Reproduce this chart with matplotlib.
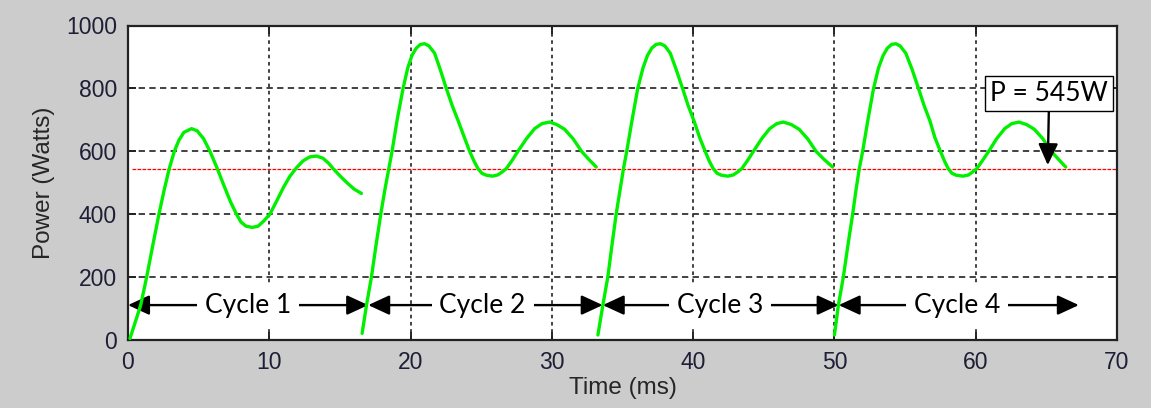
import matplotlib
matplotlib.use("Agg")
import matplotlib.pyplot as plt

# ---- data ----
c1_t = [0.14, 0.5, 0.9, 1.32, 1.75, 2.19, 2.55, 2.92, 3.28, 3.6, 3.95, 4.5, 4.9, 5.35, 5.8, 6.32, 6.8, 7.25,
        7.68, 8.0, 8.35, 8.8, 9.21, 9.6, 10.04, 10.5, 11.0, 11.45, 11.93, 12.4, 12.85, 13.34, 13.8, 14.2,
        14.52, 15.0, 15.5, 16.0, 16.52]
c1_p = [5, 55, 111, 200, 300, 400, 475, 545, 600, 635, 660, 672, 665, 640, 600, 545, 490, 440,
        400, 375, 362, 358, 362, 378, 400, 440, 485, 520, 548, 570, 582, 585, 578, 562,
        545, 522, 500, 480, 466]

c2_t = [16.57, 16.88, 17.23, 17.55, 17.89, 18.17, 18.46, 18.69, 19.05, 19.47, 19.8, 20.1, 20.4, 20.7, 21.0,
        21.3, 21.7, 22.1, 22.53, 22.95, 23.36, 23.8, 24.18, 24.5, 24.77, 25.05, 25.36, 25.8, 26.18, 26.5,
        26.78, 27.2, 27.6, 28.2, 28.78, 29.3, 29.84, 30.35, 30.9, 31.5, 32.1, 32.6, 33.14]
c2_p = [21, 111, 200, 300, 400, 475, 545, 600, 700, 800, 865, 905, 928, 940, 942,
        935, 912, 860, 800, 745, 698, 645, 600, 568, 545, 530, 524, 521, 525, 535,
        545, 572, 600, 640, 672, 688, 693, 685, 670, 640, 600, 575, 550]

c3_t = [33.26, 33.61, 33.96, 34.25, 34.55, 34.82, 35.07, 35.3, 35.68, 36.08, 36.45, 36.77, 37.07, 37.38, 37.69,
        38.0, 38.38, 38.8, 39.25, 39.65, 40.05, 40.45, 40.85, 41.15, 41.42, 41.7, 42.0, 42.45, 42.85, 43.17,
        43.45, 43.87, 44.27, 44.85, 45.42, 45.92, 46.38, 46.95, 47.5, 48.1, 48.7, 49.25, 49.87]
c3_p = [16, 111, 200, 300, 400, 475, 545, 600, 700, 800, 865, 905, 928, 940, 942,
        935, 912, 860, 800, 745, 698, 645, 600, 568, 545, 530, 524, 521, 525, 535,
        545, 572, 600, 640, 672, 688, 693, 685, 670, 640, 600, 575, 550]

c4_t = [50.0, 50.28, 50.63, 50.95, 51.29, 51.52, 51.76, 52.0, 52.37, 52.77, 53.12, 53.45, 53.75, 54.05, 54.35,
        54.65, 55.05, 55.5, 55.95, 56.35, 56.75, 57.1, 57.5, 57.8, 58.05, 58.32, 58.62, 59.1, 59.5, 59.8,
        60.08, 60.5, 60.92, 61.48, 62.05, 62.55, 63.07, 63.6, 64.15, 64.75, 65.35, 65.85, 66.37]
c4_p = [16, 111, 200, 300, 400, 475, 545, 600, 700, 800, 865, 905, 928, 940, 942,
        935, 912, 860, 800, 745, 698, 645, 600, 568, 545, 530, 524, 521, 525, 535,
        545, 572, 600, 640, 672, 688, 693, 685, 670, 640, 600, 575, 550]

avg_power = 545
cycle_labels = ["Cycle 1", "Cycle 2", "Cycle 3", "Cycle 4"]
cycle_bounds = [0.0, 17.0, 33.6, 50.3, 67.3]
cycle_centers = [8.5, 25.1, 41.9, 58.7]
cycle_arrow_y = 111
p_label = "P = 545W"
p_label_pos = (65.2, 784)
p_arrow_tip = (65.1, 556)

x_ticks = [0, 10, 20, 30, 40, 50, 60, 70]
y_ticks = [0, 200, 400, 600, 800, 1000]

# ---- figure ----
fig = plt.figure(figsize=(11.51, 4.08), dpi=100, facecolor="#cccccc")
ax = fig.add_axes([128 / 1151, 68 / 408, 989 / 1151, 314.5 / 408])
ax.set_facecolor("white")

ax.set_xlim(0, 70)
ax.set_ylim(0, 1000)
ax.set_xticks(x_ticks)
ax.set_yticks(y_ticks)

tick_color = "#1e1e36"
ax.tick_params(axis="both", direction="in", length=6, width=1.4,
               top=True, right=True, labelsize=16.5, labelcolor=tick_color,
               color="#222222", pad=8)
for lab in ax.get_xticklabels() + ax.get_yticklabels():
    lab.set_fontfamily("Liberation Sans")

for s in ax.spines.values():
    s.set_linewidth(1.6)
    s.set_color("#222222")

ax.set_xlabel("Time (ms)", fontsize=17.5, family="Liberation Sans", color="#262626", labelpad=2)
ax.set_ylabel("Power (Watts)", fontsize=17.5, family="Liberation Sans", color="#262626", labelpad=8)

# grid
ax.set_axisbelow(True)
ax.yaxis.grid(True, color="#333333", linewidth=1.3, linestyle=(0, (3.5, 2.4)))
ax.xaxis.grid(True, color="#333333", linewidth=1.3, linestyle=(0, (2.0, 2.0)))

# average line
ax.axhline(avg_power, xmin=0.004, xmax=1.0, color="#ff0000", linewidth=0.9,
           linestyle=(0, (3, 1)), zorder=2)

# power traces
for t, p in [(c1_t, c1_p), (c2_t, c2_p), (c3_t, c3_p), (c4_t, c4_p)]:
    ax.plot(t, p, color="#00f000", linewidth=2.4, zorder=6,
            solid_joinstyle="round", solid_capstyle="round")

# cycle arrows
arrow_style = "-|>,head_length=1.3,head_width=0.6"
for i, lab in enumerate(cycle_labels):
    c = cycle_centers[i]
    for tip in (cycle_bounds[i], cycle_bounds[i + 1]):
        ax.annotate("", xy=(tip, cycle_arrow_y), xytext=(c, cycle_arrow_y),
                    arrowprops=dict(arrowstyle=arrow_style, color="black", lw=1.7,
                                    mutation_scale=10, shrinkA=0, shrinkB=0),
                    zorder=4, annotation_clip=False)
    ax.text(c, cycle_arrow_y, lab, fontsize=19, family="Lato", color="black",
            ha="center", va="center", zorder=5,
            bbox=dict(boxstyle="square,pad=0.3", fc="white", ec="none"))

# P = 545W annotation
ax.annotate(p_label, xy=p_arrow_tip, xytext=p_label_pos, fontsize=19, family="Lato",
            ha="center", va="center", zorder=7,
            bbox=dict(boxstyle="square,pad=0.2", fc="white", ec="black", lw=1.0),
            arrowprops=dict(arrowstyle=arrow_style, color="black", lw=1.7,
                            mutation_scale=10, shrinkA=0, shrinkB=0))

fig.savefig("out.png", dpi=100, facecolor=fig.get_facecolor())
